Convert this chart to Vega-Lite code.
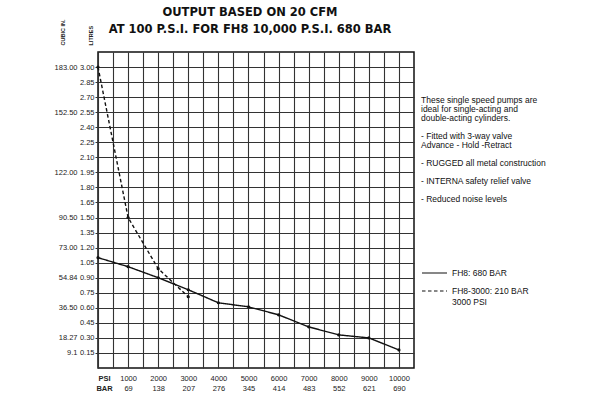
{
  "$schema": "https://vega.github.io/schema/vega-lite/v6.json",
  "autosize": {"type": "none"},
  "padding": {"left": 98, "top": 52, "right": 186, "bottom": 32},
  "width": 316,
  "height": 316,
  "background": "white",
  "title": {
    "text": ["OUTPUT BASED ON 20 CFM", "AT 100 P.S.I. FOR FH8 10,000 P.S.I. 680 BAR"],
    "font": "DejaVu Sans",
    "fontSize": 11.5,
    "fontWeight": "bold",
    "color": "#111",
    "lineHeight": 17,
    "anchor": "middle",
    "dx": -6,
    "offset": 0,
    "dy": 16
  },
  "config": {
    "view": {"stroke": "#111", "strokeWidth": 1.5},
    "axis": {"labelFont": "Liberation Sans", "labelColor": "#222", "domain": false},
    "axisX": {"labelOverlap": false, "labelBound": false}
  },
  "datasets": {
    "output": [
      {"psi": 0, "litres": 1.10, "series": "FH8: 680 BAR"},
      {"psi": 1000, "litres": 1.01, "series": "FH8: 680 BAR"},
      {"psi": 2000, "litres": 0.90, "series": "FH8: 680 BAR"},
      {"psi": 3000, "litres": 0.78, "series": "FH8: 680 BAR"},
      {"psi": 4000, "litres": 0.65, "series": "FH8: 680 BAR"},
      {"psi": 5000, "litres": 0.61, "series": "FH8: 680 BAR"},
      {"psi": 6000, "litres": 0.53, "series": "FH8: 680 BAR"},
      {"psi": 7000, "litres": 0.41, "series": "FH8: 680 BAR"},
      {"psi": 8000, "litres": 0.33, "series": "FH8: 680 BAR"},
      {"psi": 9000, "litres": 0.30, "series": "FH8: 680 BAR"},
      {"psi": 10000, "litres": 0.18, "series": "FH8: 680 BAR"},
      {"psi": 0, "litres": 3.00, "series": "FH8-3000: 210 BAR"},
      {"psi": 1000, "litres": 1.50, "series": "FH8-3000: 210 BAR"},
      {"psi": 2000, "litres": 0.99, "series": "FH8-3000: 210 BAR"},
      {"psi": 3000, "litres": 0.71, "series": "FH8-3000: 210 BAR"}
    ]
  },
  "data": {"name": "output"},
  "encoding": {
    "x": {
      "field": "psi", "type": "quantitative",
      "scale": {"domain": [0, 10500], "nice": false, "zero": false},
      "axis": {
        "title": null,
        "values": [0, 500, 1000, 1500, 2000, 2500, 3000, 3500, 4000, 4500, 5000, 5500, 6000, 6500, 7000, 7500, 8000, 8500, 9000, 9500, 10000],
        "grid": true, "gridColor": "#333", "gridWidth": 1.1, "gridOpacity": 1,
        "ticks": false,
        "labelPadding": 6,
        "labelFontSize": 7.5,
        "labelLineHeight": 10,
        "labelBaseline": "top",
        "labelExpr": "datum.value == 0 ? ['PSI', 'BAR'] : (datum.value % 1000 != 0 ? '' : [format(datum.value, 'd'), ['69','138','207','276','345','414','483','552','621','690'][datum.value / 1000 - 1]])",
        "labelFontWeight": {"condition": {"test": "datum.value == 0", "value": "bold"}, "value": "normal"},
        "labelOffset": {"condition": {"test": "datum.value == 0", "value": 6}, "value": 0},
        "labelFlush": false,
        "labelOverlap": false,
        "labelBound": false
      }
    }
  },
  "layer": [
    {
      "mark": {"type": "line", "color": "#111", "strokeWidth": 1.4},
      "encoding": {
        "y": {
          "field": "litres", "type": "quantitative",
          "scale": {"domain": [0, 3.15], "nice": false, "zero": false},
          "axis": {
            "title": "LITRES",
            "titleFont": "Liberation Sans", "titleFontSize": 5.5, "titleFontWeight": "bold", "titleColor": "#222",
            "titleAngle": -90, "titleAlign": "left", "titleBaseline": "middle",
            "titleX": -8, "titleY": -7,
            "values": [0.15, 0.3, 0.45, 0.6, 0.75, 0.9, 1.05, 1.2, 1.35, 1.5, 1.65, 1.8, 1.95, 2.1, 2.25, 2.4, 2.55, 2.7, 2.85, 3.0],
            "format": ".2f",
            "grid": true, "gridColor": "#333", "gridWidth": 1.1, "gridOpacity": 1,
            "ticks": true, "tickSize": 3, "tickColor": "#333",
            "labelPadding": 1,
            "labelFontSize": 7.5
          }
        },
        "strokeDash": {
          "field": "series", "type": "nominal",
          "scale": {"domain": ["FH8: 680 BAR", "FH8-3000: 210 BAR"], "range": [[1, 0], [3.5, 2.5]]},
          "legend": {
            "orient": "none",
            "legendX": 323,
            "legendY": 44,
            "padding": 0,
            "title": ["These single speed pumps are", "ideal for single-acting and", "double-acting cylinders.", "\u200b", "- Fitted with 3-way valve", "Advance - Hold -Retract", "\u200b", "- RUGGED all metal construction", "\u200b", "- INTERNA safety relief valve", "\u200b", "- Reduced noise levels"],
            "titleFont": "Liberation Sans",
            "titleFontSize": 8.5,
            "titleFontWeight": "normal",
            "titleColor": "#111",
            "titleLineHeight": 9,
            "titleLimit": 200,
            "titlePadding": 56,
            "symbolType": "stroke",
            "symbolSize": 625,
            "symbolStrokeColor": "#111",
            "symbolStrokeWidth": 1.2,
            "labelFont": "Liberation Sans",
            "labelFontSize": 8.5,
            "labelColor": "#111",
            "labelOffset": 4,
            "labelLineHeight": 9,
            "labelExpr": "datum.label == 'FH8-3000: 210 BAR' ? ['FH8-3000: 210 BAR', '3000 PSI'] : datum.label",
            "rowPadding": 0
          }
        }
      }
    },
    {
      "mark": {"type": "point", "filled": true, "color": "#111", "size": 10, "opacity": 1},
      "encoding": {
        "y": {
          "field": "litres", "type": "quantitative",
          "axis": {
            "orient": "left",
            "title": "CUBIC IN.",
            "titleFont": "Liberation Sans", "titleFontSize": 5.5, "titleFontWeight": "bold", "titleColor": "#222",
            "titleAngle": -90, "titleAlign": "left", "titleBaseline": "middle",
            "titleX": -17, "titleY": -7,
            "offset": 19,
            "values": [0.15, 0.3, 0.6, 0.9, 1.2, 1.5, 1.95, 2.55, 3.0],
            "labelExpr": "{'0.15':'9.1','0.30':'18.27','0.60':'36.50','0.90':'54.84','1.20':'73.00','1.50':'90.50','1.95':'122.00','2.55':'152.50','3.00':'183.00'}[format(datum.value, '.2f')]",
            "grid": false,
            "ticks": false,
            "labelPadding": 2,
            "labelFontSize": 7.5
          }
        }
      }
    }
  ],
  "resolve": {"axis": {"y": "independent"}}
}
